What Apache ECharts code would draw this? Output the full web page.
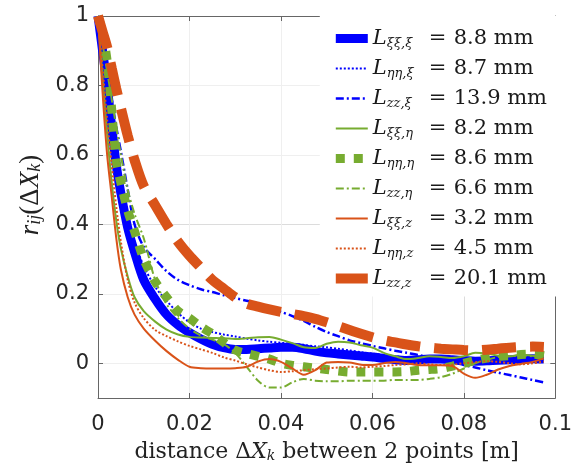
<!DOCTYPE html>
<html>
<head>
<meta charset="utf-8">
<script src="https://cdn.jsdelivr.net/npm/echarts@6/dist/echarts.min.js"></script>
<style>html,body{margin:0;padding:0;background:#fff}#c{width:575px;height:471px}</style>
</head>
<body>
<div id="c"></div>
<script>
// distance ΔX_k [m]
const xs = [0, 0.001, 0.002, 0.003, 0.004, 0.005, 0.0065, 0.008, 0.01, 0.0125, 0.015, 0.0175, 0.02,
  0.0225, 0.025, 0.0275, 0.03, 0.0325, 0.035, 0.0375, 0.04, 0.0425, 0.045, 0.0475, 0.05,
  0.0525, 0.055, 0.0575, 0.06, 0.0625, 0.065, 0.0675, 0.07, 0.0725, 0.075, 0.0775, 0.08,
  0.0825, 0.085, 0.0875, 0.09, 0.0925, 0.095, 0.0975];

const r_xixi_xi = [1, 0.9, 0.8, 0.68, 0.57, 0.49, 0.39, 0.32, 0.24, 0.185, 0.14, 0.11, 0.088,
  0.07, 0.055, 0.045, 0.04, 0.04, 0.042, 0.044, 0.046, 0.046, 0.042, 0.035, 0.03,
  0.027, 0.024, 0.021, 0.018, 0.014, 0.01, 0.008, 0.01, 0.012, 0.012, 0.01, 0.008,
  0.006, 0.007, 0.009, 0.01, 0.012, 0.013, 0.012];
const r_etaeta_xi = [1, 0.9, 0.8, 0.7, 0.6, 0.52, 0.42, 0.35, 0.28, 0.22, 0.18, 0.145, 0.118,
  0.1, 0.09, 0.083, 0.077, 0.071, 0.066, 0.062, 0.059, 0.056, 0.053, 0.049, 0.046,
  0.042, 0.037, 0.032, 0.028, 0.024, 0.02, 0.016, 0.012, 0.008, 0.006, 0.004, 0.002,
  0.0, 0.003, 0.006, 0.008, 0.006, 0.005, 0.004];
const r_zz_xi = [1, 0.93, 0.85, 0.76, 0.68, 0.61, 0.5, 0.4, 0.335, 0.3, 0.265, 0.24, 0.225,
  0.213, 0.205, 0.196, 0.188, 0.18, 0.172, 0.16, 0.148, 0.136, 0.122, 0.105, 0.09,
  0.078, 0.066, 0.058, 0.05, 0.043, 0.036, 0.03, 0.024, 0.017, 0.01, 0.003, -0.005,
  -0.012, -0.02, -0.027, -0.034, -0.041, -0.048, -0.055];
const r_xixi_eta = [1, 0.82, 0.66, 0.52, 0.41, 0.33, 0.25, 0.19, 0.15, 0.12, 0.097, 0.083, 0.076,
  0.074, 0.073, 0.072, 0.07, 0.072, 0.075, 0.076, 0.068, 0.058, 0.046, 0.044, 0.056,
  0.062, 0.06, 0.052, 0.045, 0.03, 0.02, 0.012, 0.015, 0.02, 0.018, 0.015, 0.02,
  0.03, 0.028, 0.022, 0.02, 0.025, 0.022, 0.02];
const r_etaeta_eta = [1, 0.95, 0.87, 0.73, 0.58, 0.52, 0.44, 0.38, 0.3, 0.235, 0.19, 0.15, 0.13,
  0.105, 0.085, 0.06, 0.038, 0.028, 0.02, 0.012, 0.0, -0.006, -0.01, -0.014, -0.018,
  -0.022, -0.025, -0.025, -0.025, -0.025, -0.025, -0.024, -0.02, -0.018, -0.015, -0.008, 0.0,
  0.008, 0.015, 0.02, 0.022, 0.025, 0.026, 0.022];
const r_zz_eta = [1, 0.92, 0.84, 0.76, 0.68, 0.6, 0.5, 0.43, 0.36, 0.24, 0.17, 0.13, 0.1,
  0.08, 0.068, 0.055, 0.03, -0.01, -0.05, -0.07, -0.07, -0.055, -0.045, -0.05, -0.052,
  -0.052, -0.05, -0.05, -0.05, -0.05, -0.048, -0.048, -0.048, -0.045, -0.04, -0.03, -0.015,
  0.0, 0.01, 0.018, 0.02, 0.022, 0.02, 0.015];
const r_xixi_z = [1, 0.78, 0.6, 0.48, 0.36, 0.27, 0.19, 0.14, 0.1, 0.065, 0.035, 0.01, -0.01,
  -0.014, -0.015, -0.015, -0.014, -0.01, 0.005, 0.012, 0.004, -0.015, -0.033, -0.02, 0.002,
  0.004, 0.002, -0.004, -0.005, 0.0, 0.004, 0.0, -0.005, -0.006, -0.006, -0.008, -0.03,
  -0.042, -0.033, -0.018, -0.008, -0.002, 0.004, 0.014];
const r_etaeta_z = [1, 0.85, 0.7, 0.57, 0.45, 0.35, 0.24, 0.175, 0.13, 0.096, 0.078, 0.063, 0.05,
  0.04, 0.03, 0.017, 0.008, -0.003, -0.012, -0.02, -0.025, -0.023, -0.02, -0.017, -0.015,
  -0.012, -0.01, -0.012, -0.01, -0.008, -0.005, -0.003, 0.0, -0.003, -0.005, -0.004, 0.0,
  0.003, 0.006, 0.004, 0.0, -0.003, 0.0, 0.005];
const r_zz_z = [1, 0.955, 0.91, 0.85, 0.79, 0.735, 0.655, 0.585, 0.51, 0.455, 0.4, 0.35, 0.31,
  0.275, 0.24, 0.215, 0.19, 0.172, 0.163, 0.155, 0.148, 0.142, 0.136, 0.128, 0.118,
  0.107, 0.096, 0.085, 0.075, 0.066, 0.06, 0.054, 0.049, 0.045, 0.042, 0.04, 0.038,
  0.037, 0.039, 0.042, 0.045, 0.047, 0.048, 0.047];

const subs = ['ξξ,ξ', 'ηη,ξ', 'zz,ξ', 'ξξ,η', 'ηη,η', 'zz,η', 'ξξ,z', 'ηη,z', 'zz,z'];
const lengthsMM = ['8.8', '8.7', '13.9', '8.2', '8.6', '6.6', '3.2', '4.5', '20.1'];
const seriesValues = [r_xixi_xi, r_etaeta_xi, r_zz_xi, r_xixi_eta, r_etaeta_eta, r_zz_eta, r_xixi_z, r_etaeta_z, r_zz_z];

const xTicks = [0, 0.02, 0.04, 0.06, 0.08, 0.1];
const yTicks = [0, 0.2, 0.4, 0.6, 0.8, 1];

const BLUE = '#0000ff', GREEN = '#77ac30', ORANGE = '#d95319';
const styles = [
  {color: BLUE, width: 9, type: 'solid'},
  {color: BLUE, width: 2, type: [2, 2]},
  {color: BLUE, width: 2.5, type: [8, 3, 2, 3]},
  {color: GREEN, width: 2, type: 'solid'},
  {color: GREEN, width: 9, type: [9, 9]},
  {color: GREEN, width: 2, type: [8, 3, 2, 3]},
  {color: ORANGE, width: 2, type: 'solid'},
  {color: ORANGE, width: 2, type: [2, 2]},
  {color: ORANGE, width: 10, type: [34, 14]}
];

const names = subs.map(s => 'L' + s);
const series = seriesValues.map((vals, i) => ({
  name: names[i],
  type: 'line',
  data: xs.map((x, j) => [x, vals[j]]),
  showSymbol: false,
  symbol: 'none',
  smooth: 0.3,
  lineStyle: {color: styles[i].color, width: styles[i].width, type: styles[i].type, cap: 'butt'},
  itemStyle: {color: styles[i].color},
  z: 2 + i
}));

const fmt = v => String(Number(v.toFixed(3)));
const MAJ = '#dcdcdc', MIN = '#efefef';
const serif = 'DejaVu Serif';
const txt = '#1a1a1a';

const chart = echarts.init(document.getElementById('c'), null, {renderer: 'canvas'});
chart.setOption({
  animation: false,
  backgroundColor: '#fff',
  grid: {left: 98, right: 18, top: 16, bottom: 73},
  legend: {
    orient: 'vertical',
    right: 18, top: 16,
    backgroundColor: '#fff',
    borderWidth: 0,
    padding: [12, 10, 6, 11],
    itemWidth: 32, itemHeight: 14, itemGap: 7.5,
    data: names,
    itemStyle: {opacity: 0},
    lineStyle: {width: 'inherit', type: 'inherit', cap: 'butt'},
    formatter: n => {
      const i = names.indexOf(n);
      return '{L|L}{s|' + subs[i] + '}{e|=}{v|' + lengthsMM[i] + ' mm}';
    },
    textStyle: {
      rich: {
        L: {fontFamily: serif, fontStyle: 'italic', fontSize: 21, lineHeight: 24, color: txt},
        s: {fontFamily: serif, fontStyle: 'italic', fontSize: 13, lineHeight: 24, width: 42, color: txt, verticalAlign: 'bottom', padding: [9, 0, 0, 0]},
        e: {fontFamily: serif, fontSize: 21, lineHeight: 24, width: 25, color: txt},
        v: {fontFamily: serif, fontSize: 21, lineHeight: 24, color: txt}
      }
    }
  },
  xAxis: [{
    type: 'value', min: 0, max: 0.1, interval: 0.005,
    axisLine: {show: true, onZero: false, lineStyle: {color: '#666', width: 1}},
    axisTick: {show: true, inside: true, length: 5, customValues: xTicks, lineStyle: {color: '#666'}},
    axisLabel: {customValues: xTicks, formatter: fmt, fontFamily: 'DejaVu Sans', fontSize: 21, color: '#262626', margin: 16},
    splitLine: {show: true, lineStyle: {color: [MAJ, MIN, MIN, MIN], width: 1}},
    name: '{t|distance Δ}{X|X}{k|k}{t| between 2 points [m]}',
    nameLocation: 'middle', nameGap: 43,
    nameTextStyle: {rich: {
      t: {fontFamily: serif, fontSize: 22, color: '#222'},
      X: {fontFamily: serif, fontStyle: 'italic', fontSize: 22, color: '#222'},
      k: {fontFamily: serif, fontStyle: 'italic', fontSize: 14, color: '#222', padding: [8, 0, 0, 0]}
    }}
  }, {
    type: 'value', min: 0, max: 0.1, interval: 0.005, position: 'top',
    axisLine: {show: true, onZero: false, lineStyle: {color: '#666', width: 1}},
    axisTick: {show: true, inside: true, length: 5, customValues: xTicks, lineStyle: {color: '#666'}},
    axisLabel: {show: false},
    splitLine: {show: false}
  }],
  yAxis: [{
    type: 'value', min: -0.1, max: 1, interval: 0.05,
    axisLine: {show: true, onZero: false, lineStyle: {color: '#666', width: 1}},
    axisTick: {show: true, inside: true, length: 5, customValues: yTicks, lineStyle: {color: '#666'}},
    axisLabel: {customValues: yTicks, formatter: fmt, fontFamily: 'DejaVu Sans', fontSize: 21, color: '#262626', margin: 9},
    splitLine: {show: true, lineStyle: {color: [MIN, MIN, MAJ, MIN], width: 1}},
    name: '{r|r}{ij|ij}{p|(Δ}{X|X}{k|k}{p|)}',
    nameLocation: 'middle', nameGap: 52,
    nameTextStyle: {padding: [0, 0, 0, 24], rich: {
      r: {fontFamily: 'Liberation Serif', fontStyle: 'italic', fontSize: 27, color: '#222'},
      ij: {fontFamily: 'Liberation Serif', fontStyle: 'italic', fontSize: 18, color: '#222', padding: [10, 0, 0, 0]},
      p: {fontFamily: 'Liberation Serif', fontSize: 27, color: '#222'},
      X: {fontFamily: 'Liberation Serif', fontStyle: 'italic', fontSize: 27, color: '#222'},
      k: {fontFamily: 'Liberation Serif', fontStyle: 'italic', fontSize: 18, color: '#222', padding: [10, 0, 0, 0]}
    }}
  }, {
    type: 'value', min: -0.1, max: 1, interval: 0.05, position: 'right',
    axisLine: {show: true, onZero: false, lineStyle: {color: '#666', width: 1}},
    axisTick: {show: true, inside: true, length: 5, customValues: yTicks, lineStyle: {color: '#666'}},
    axisLabel: {show: false},
    splitLine: {show: false}
  }],
  series: series
});
</script>
</body>
</html>
